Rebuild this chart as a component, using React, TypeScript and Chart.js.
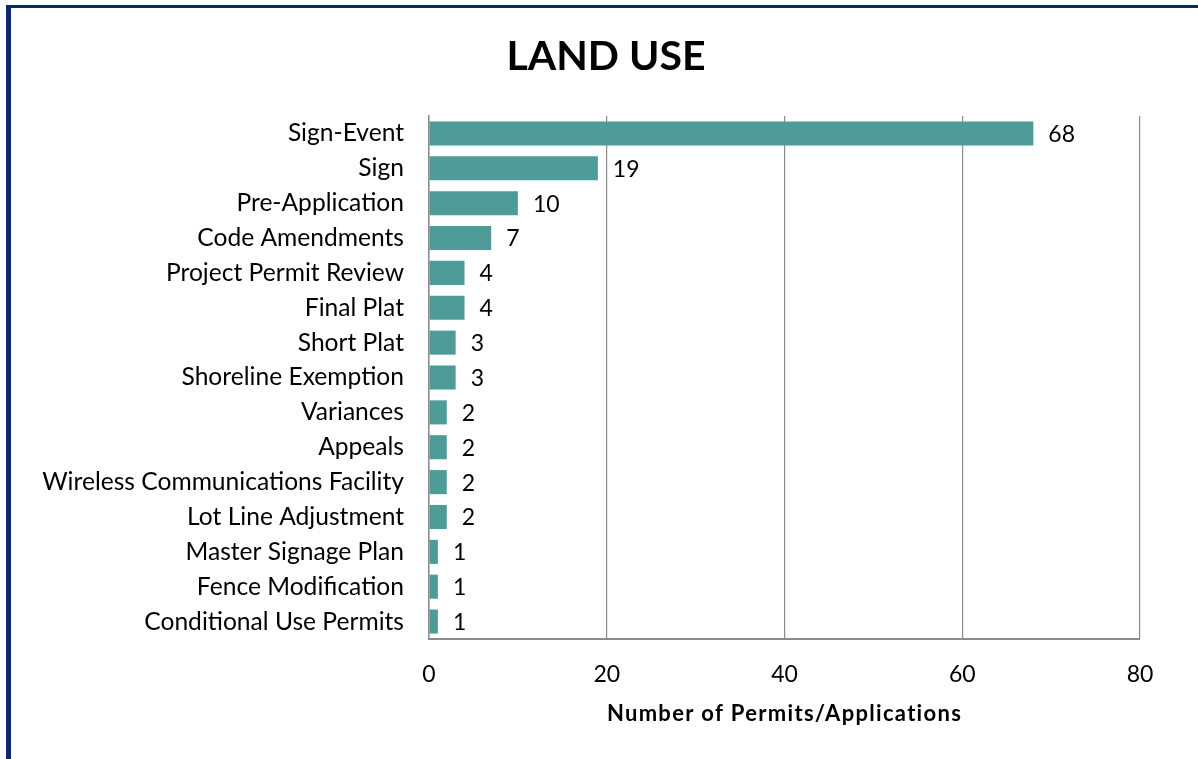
import React, { useEffect, useRef } from "react";
import { Chart, registerables } from "chart.js";

Chart.register(...registerables);

const categories = [
  "Sign-Event",
  "Sign",
  "Pre-Application",
  "Code Amendments",
  "Project Permit Review",
  "Final Plat",
  "Short Plat",
  "Shoreline Exemption",
  "Variances",
  "Appeals",
  "Wireless Communications Facility",
  "Lot Line Adjustment",
  "Master Signage Plan",
  "Fence Modification",
  "Conditional Use Permits",
];
const values = [68, 19, 10, 7, 4, 4, 3, 3, 2, 2, 2, 2, 1, 1, 1];
const xTicks = [0, 20, 40, 60, 80];
const chartTitle = "LAND USE";
const xAxisTitle = "Number of Permits/Applications";

const FONT = "Lato, 'Open Sans', sans-serif";

const textPlugin = {
  id: "customText",
  afterDraw(chart: any) {
    const { ctx, chartArea } = chart;
    ctx.save();
    ctx.fillStyle = "#000";
    ctx.textBaseline = "middle";
    ctx.textAlign = "center";
    ctx.font = `bold 41px ${FONT}`;
    ctx.fillText(chartTitle, 606, 57);
    ctx.font = `bold 22px ${FONT}`;
    (ctx as any).letterSpacing = "1.3px";
    ctx.fillText(xAxisTitle, (chartArea.left + chartArea.right) / 2, 714);
    (ctx as any).letterSpacing = "0px";
    // data labels
    const meta = chart.getDatasetMeta(0);
    ctx.font = `23px ${FONT}`;
    ctx.textAlign = "left";
    meta.data.forEach((bar: any, i: number) => {
      ctx.fillText(String(values[i]), bar.x + 15, bar.y + 1);
    });
    ctx.restore();
  },
};

export default function App() {
  const ref = useRef<HTMLCanvasElement>(null);
  useEffect(() => {
    document.body.style.margin = "0";
    const chart = new Chart(ref.current!, {
      type: "bar",
      data: {
        labels: categories,
        datasets: [
          {
            data: values,
            backgroundColor: "#4f9b98",
            barPercentage: 0.69,
            categoryPercentage: 1,
          },
        ],
      },
      plugins: [textPlugin],
      options: {
        indexAxis: "y",
        animation: false,
        responsive: false,
        devicePixelRatio: 1,
        layout: { padding: { top: 116, right: 58, bottom: 0, left: 0 } },
        plugins: {
          legend: { display: false },
          tooltip: { enabled: false },
          title: { display: false },
        },
        scales: {
          x: {
            min: 0,
            max: 80,
            afterBuildTicks(scale: any) {
              scale.ticks = xTicks.map((v) => ({ value: v }));
            },
            afterFit(scale: any) {
              scale.height = 120;
            },
            ticks: {
              padding: 22,
              color: "#000",
              font: { family: FONT, size: 23 },
              maxRotation: 0,
            },
            grid: {
              drawTicks: false,
              color: "#8c8c8c",
              lineWidth: 1.2,
            },
            border: { color: "#8c8c8c", width: 2 },
          },
          y: {
            afterFit(scale: any) {
              scale.width = 429;
            },
            ticks: {
              padding: 25,
              color: "#000",
              font: { family: FONT, size: 24.6 },
              autoSkip: false,
            },
            grid: { display: false, drawTicks: false },
            border: { color: "#8c8c8c", width: 1.5 },
          },
        },
      },
    });
    return () => chart.destroy();
  }, []);
  return (
    <div
      style={{
        position: "fixed",
        left: 0,
        top: 0,
        width: 1198,
        height: 759,
        background: "#fff",
      }}
    >
      <canvas ref={ref} width={1198} height={759} style={{ position: "absolute", left: 0, top: 0 }} />
      <div
        style={{
          position: "absolute",
          left: 6,
          top: 5,
          right: 0,
          bottom: 0,
          borderLeft: "5px solid #0b2a68",
          borderTop: "3px solid #0b2a68",
          pointerEvents: "none",
        }}
      />
    </div>
  );
}
